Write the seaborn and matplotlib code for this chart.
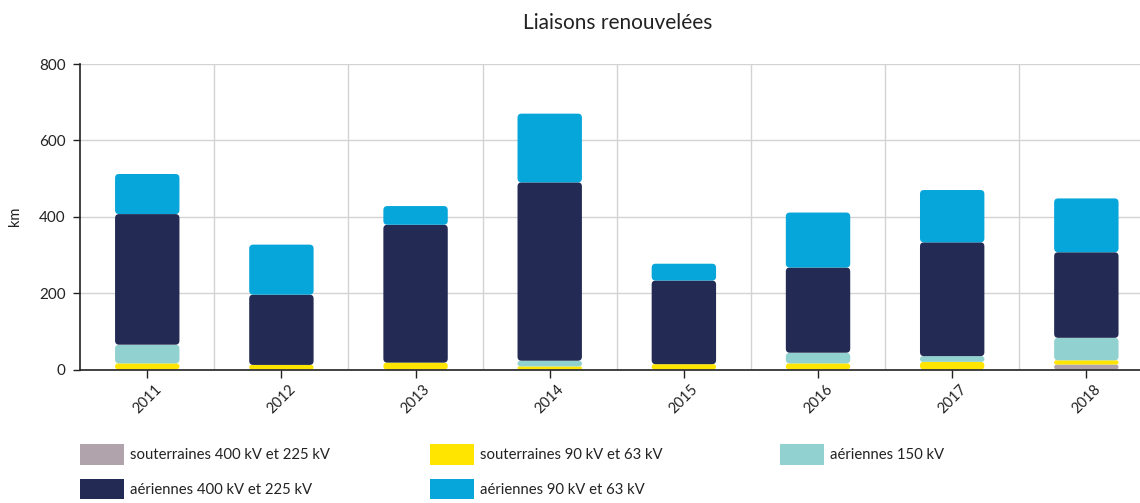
import matplotlib
matplotlib.use("Agg")
import matplotlib.pyplot as plt
from matplotlib.patches import FancyBboxPatch, Patch
import numpy as np
import pandas as pd
import seaborn as sns

# Renewed line lengths (km) per year and per line type
years = ["2011", "2012", "2013", "2014", "2015", "2016", "2017", "2018"]
sout_400 = [0, 0, 0, 0, 0, 0, 0, 13]
sout_90 = [16, 12, 18, 8, 14, 16, 20, 11]
aer_150 = [49, 0, 0, 15, 0, 28, 15, 59]
aer_400 = [342, 184, 361, 467, 219, 223, 298, 224]
aer_90 = [105, 131, 49, 180, 44, 144, 137, 141]

series_names = [
    "souterraines 400 kV et 225 kV",
    "souterraines 90 kV et 63 kV",
    "aériennes 150 kV",
    "aériennes 400 kV et 225 kV",
    "aériennes 90 kV et 63 kV",
]
series_values = [sout_400, sout_90, aer_150, aer_400, aer_90]
series_colors = ["#b1a3ab", "#ffe500", "#91d1cf", "#232a53", "#06a6da"]

sns.set_theme(style="white")
plt.rcParams["font.family"] = ["Lato", "DejaVu Sans"]

W, H = 1140, 503
fig = plt.figure(figsize=(W / 100, H / 100), dpi=100)
ax = fig.add_axes([79.5 / W, 1 - 369.5 / H, 1 - 79.5 / W, (369.5 - 64) / H])

bottom = np.zeros(len(years))
for name, vals, col in zip(series_names, series_values, series_colors):
    df = pd.DataFrame({"annee": years, "km": vals})
    sns.barplot(data=df, x="annee", y="km", order=years, color=col,
                width=0.48, bottom=bottom.copy(), saturation=1,
                linewidth=0, ax=ax, zorder=3)
    bottom += np.asarray(vals, dtype=float)

# Ticks and grid: horizontal at y ticks, vertical between years
ax.set_yticks([0, 200, 400, 600, 800])
ax.set_xticks(np.arange(len(years)))
ax.set_xticks(np.arange(len(years) - 1) + 0.5, minor=True)
ax.grid(axis="y", which="major", color="#d3d3d3", linewidth=1, zorder=0)
ax.grid(axis="x", which="minor", color="#d3d3d3", linewidth=1, zorder=0)
ax.grid(axis="x", which="major", visible=False)

ax.set_xlim(-0.505, 7.40)
ax.set_ylim(0, 800)

# Rounded corners on every bar segment
p0 = ax.transData.transform((0, 0))
p1 = ax.transData.transform((1, 1))
px_x, px_y = p1[0] - p0[0], p1[1] - p0[1]
aspect = px_x / px_y
radius = 4.0 / px_x
for patch in list(ax.patches):
    x, y = patch.get_x(), patch.get_y()
    w, h = patch.get_width(), patch.get_height()
    fc = patch.get_facecolor()
    patch.remove()
    if h <= 0:
        continue
    r = min(radius, w / 2, (h / aspect) / 2)
    ax.add_patch(FancyBboxPatch((x, y), w, h,
                                boxstyle=f"round,pad=0,rounding_size={r}",
                                mutation_aspect=aspect, facecolor=fc,
                                edgecolor="none", zorder=3))
ax.set_xlim(-0.505, 7.40)
ax.set_ylim(0, 800)

for side in ["top", "right"]:
    ax.spines[side].set_visible(False)
for side in ["left", "bottom"]:
    ax.spines[side].set_color("#222222")
    ax.spines[side].set_linewidth(1.2)
    ax.spines[side].set_zorder(4)

ax.tick_params(axis="y", which="major", left=True, length=5, width=1,
               color="#222222", labelsize=11, labelcolor="#222222", pad=5)
ax.tick_params(axis="x", which="major", bottom=True, length=6, width=1,
               color="#222222", labelsize=10.5, labelcolor="#222222", pad=3)
ax.tick_params(axis="x", which="minor", bottom=False)
for lbl in ax.get_xticklabels():
    lbl.set_rotation(45)
    lbl.set_ha("center")

ax.set_xlabel("")
ax.set_ylabel("km", fontsize=10.5, color="#222222", labelpad=12)
ax.set_title("Liaisons renouvelées", fontsize=15, color="#222222", pad=25,
             x=(618 - 79.5) / (W - 79.5))

# Legend below the chart: three columns, two rows
columns = [[0, 3], [1, 4], [2]]
col_x = [80, 430, 780]
for idxs, x0 in zip(columns, col_x):
    handles = [Patch(facecolor=series_colors[i], edgecolor="none", label=series_names[i])
               for i in idxs]
    fig.legend(handles=handles, loc="upper left", bbox_to_anchor=(x0 / W, 1 - 444 / H),
               ncol=1, frameon=False, fontsize=10.7, handlelength=2.95,
               handleheight=1.75, handletextpad=0.4, labelspacing=0.95,
               borderaxespad=0, borderpad=0, labelcolor="#222222")

fig.savefig("out.png", dpi=100)
